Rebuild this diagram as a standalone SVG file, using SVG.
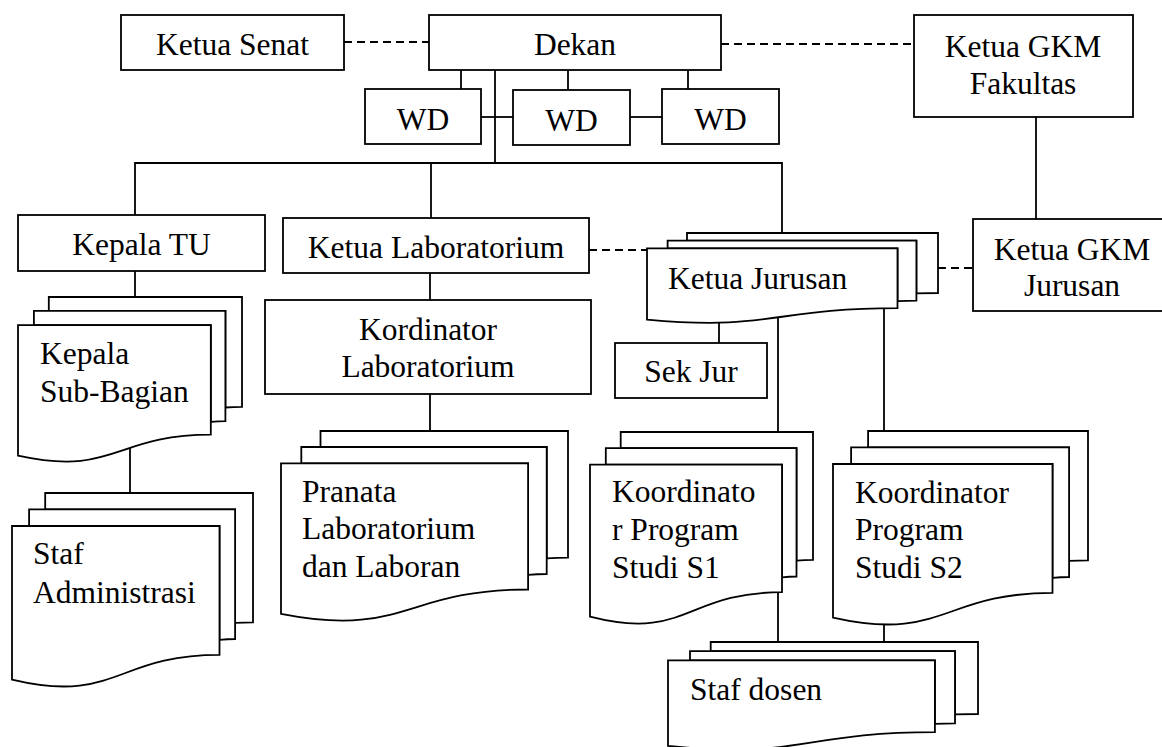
<svg xmlns="http://www.w3.org/2000/svg" width="1162" height="747" viewBox="0 0 1162 747">
<style>
.box{fill:#fff;stroke:#000;stroke-width:1.8}
.ln{fill:none;stroke:#000;stroke-width:1.8}
.dash{fill:none;stroke:#000;stroke-width:1.8;stroke-dasharray:8 5}
text{font-family:"Liberation Serif","Times New Roman",serif;font-size:31.5px;fill:#000}
.c{text-anchor:middle}
</style>
<rect width="1162" height="747" fill="#fff"/>
<g id="connectors">
<line class="dash" x1="344" y1="42" x2="429" y2="42"/>
<line class="dash" x1="721" y1="44" x2="914" y2="44"/>
<line class="dash" x1="589" y1="250" x2="647" y2="250"/>
<line class="dash" x1="938" y1="268" x2="973" y2="268"/>
<line class="ln" x1="461" y1="70" x2="461" y2="89"/>
<line class="ln" x1="568" y1="70" x2="568" y2="90"/>
<line class="ln" x1="688" y1="70" x2="688" y2="89"/>
<line class="ln" x1="481" y1="117" x2="513" y2="117"/>
<line class="ln" x1="630" y1="117" x2="662" y2="117"/>
<line class="ln" x1="495" y1="70" x2="495" y2="163"/>
<polyline class="ln" points="135,215 135,163 782,163 782,233"/>
<line class="ln" x1="431" y1="163" x2="431" y2="218"/>
<line class="ln" x1="135" y1="271" x2="135" y2="297"/>
<line class="ln" x1="130" y1="440" x2="130" y2="493"/>
<line class="ln" x1="430" y1="273" x2="430" y2="300"/>
<line class="ln" x1="430" y1="394" x2="430" y2="431"/>
<line class="ln" x1="1036" y1="117" x2="1036" y2="219"/>
<line class="ln" x1="719" y1="300" x2="719" y2="343"/>
<line class="ln" x1="778" y1="300" x2="778" y2="432"/>
<line class="ln" x1="884" y1="300" x2="884" y2="431"/>
<line class="ln" x1="778" y1="580" x2="778" y2="642"/>
<line class="ln" x1="884" y1="600" x2="884" y2="642"/>
</g>
<g id="ketua-senat">
<rect class="box" x="121" y="15" width="223" height="55"/>
<text class="c" x="232.5" y="55">Ketua Senat</text>
</g>
<g id="dekan">
<rect class="box" x="429" y="15" width="292" height="55"/>
<text class="c" x="575" y="55">Dekan</text>
</g>
<g id="ketua-gkm-fakultas">
<rect class="box" x="914" y="15" width="219" height="102"/>
<text class="c" x="1023" y="57">Ketua GKM</text>
<text class="c" x="1023" y="94">Fakultas</text>
</g>
<g id="wd1">
<rect class="box" x="365" y="89" width="116" height="55"/>
<text class="c" x="423" y="130">WD</text>
</g>
<g id="wd2">
<rect class="box" x="513" y="90" width="117" height="55"/>
<text class="c" x="571.5" y="131">WD</text>
</g>
<g id="wd3">
<rect class="box" x="662" y="89" width="117" height="55"/>
<text class="c" x="720.5" y="130">WD</text>
</g>
<g id="kepala-tu">
<rect class="box" x="18" y="215" width="247" height="56"/>
<text class="c" x="141.5" y="255">Kepala TU</text>
</g>
<g id="ketua-laboratorium">
<rect class="box" x="283" y="218" width="306" height="55"/>
<text class="c" x="436" y="258">Ketua Laboratorium</text>
</g>
<g id="kordinator-laboratorium">
<rect class="box" x="265" y="300" width="326" height="94"/>
<text class="c" x="428" y="340">Kordinator</text>
<text class="c" x="428" y="377">Laboratorium</text>
</g>
<g id="ketua-gkm-jurusan">
<rect class="box" x="973" y="219" width="200" height="92"/>
<text class="c" x="1072" y="260">Ketua GKM</text>
<text class="c" x="1072" y="296">Jurusan</text>
</g>
<g id="sek-jur">
<rect class="box" x="615" y="343" width="152" height="55"/>
<text class="c" x="691" y="382">Sek Jur</text>
</g>
<g id="kepala-sub-bagian">
<path class="box" d="M48.8,310.9 L48.8,297 L242,297 L242,406.9 C233.7,406.9 225.4,407.5 225.4,407.5 L225.4,310.9 Z"/>
<path class="box" d="M33.9,325.1 L33.9,310.9 L225.4,310.9 L225.4,421.1 C218.1,421.1 210.8,421.9 210.8,421.9 L210.8,325.1 Z"/>
<path class="box" d="M18,455.7 C114.4,476.8 114.4,434.7 210.8,434.7 L210.8,325.1 L18,325.1 Z"/>
<text x="40" y="364">Kepala</text>
<text x="40" y="402">Sub-Bagian</text>
</g>
<g id="staf-administrasi">
<path class="box" d="M45.2,509.3 L45.2,493 L253,493 L253,622.3 C244.1,622.3 235.1,622.9 235.1,622.9 L235.1,509.3 Z"/>
<path class="box" d="M29.1,526 L29.1,509.3 L235.1,509.3 L235.1,639 C227.3,639 219.5,639.9 219.5,639.9 L219.5,526 Z"/>
<path class="box" d="M12,679.6 C115.8,704.4 115.8,654.9 219.5,654.9 L219.5,526 L12,526 Z"/>
<text x="33" y="564">Staf</text>
<text x="33" y="603">Administrasi</text>
</g>
<g id="pranata-laboratorium">
<path class="box" d="M320.5,447 L320.5,431 L568,431 L568,557.6 C557.4,557.6 546.7,558.3 546.7,558.3 L546.7,447 Z"/>
<path class="box" d="M301.3,463.3 L301.3,447 L546.7,447 L546.7,574 C537.4,574 528.1,574.8 528.1,574.8 L528.1,463.3 Z"/>
<path class="box" d="M281,613.8 C404.6,638.1 404.6,589.5 528.1,589.5 L528.1,463.3 L281,463.3 Z"/>
<text x="302" y="502">Pranata</text>
<text x="302" y="539">Laboratorium</text>
<text x="302" y="577">dan Laboran</text>
</g>
<g id="ketua-jurusan">
<path class="box" d="M687,240.6 L687,233 L938,233 L938,293 C927.2,293 916.4,293.3 916.4,293.3 L916.4,240.6 Z"/>
<path class="box" d="M667.6,248.3 L667.6,240.6 L916.4,240.6 L916.4,300.7 C907,300.7 897.5,301.1 897.5,301.1 L897.5,248.3 Z"/>
<path class="box" d="M647,319.6 C772.3,331.1 772.3,308.1 897.5,308.1 L897.5,248.3 L647,248.3 Z"/>
<text x="668" y="289">Ketua Jurusan</text>
</g>
<g id="koordinator-s1">
<path class="box" d="M620.7,448.1 L620.7,432 L813,432 L813,559.9 C804.7,559.9 796.5,560.6 796.5,560.6 L796.5,448.1 Z"/>
<path class="box" d="M605.8,464.7 L605.8,448.1 L796.5,448.1 L796.5,576.5 C789.2,576.5 782,577.3 782,577.3 L782,464.7 Z"/>
<path class="box" d="M590,616.7 C686,641.3 686,592.2 782,592.2 L782,464.7 L590,464.7 Z"/>
<text x="612" y="502">Koordinato</text>
<text x="612" y="540">r Program</text>
<text x="612" y="578">Studi S1</text>
</g>
<g id="koordinator-s2">
<path class="box" d="M868.1,447.3 L868.1,431 L1088,431 L1088,560.3 C1078.6,560.3 1069.1,560.9 1069.1,560.9 L1069.1,447.3 Z"/>
<path class="box" d="M851.1,464 L851.1,447.3 L1069.1,447.3 L1069.1,577 C1060.8,577 1052.5,577.9 1052.5,577.9 L1052.5,464 Z"/>
<path class="box" d="M833,617.6 C942.8,642.4 942.8,592.9 1052.5,592.9 L1052.5,464 L833,464 Z"/>
<text x="855" y="503">Koordinator</text>
<text x="855" y="540">Program</text>
<text x="855" y="578">Studi S2</text>
</g>
<g id="staf-dosen">
<path class="box" d="M710.7,651.1 L710.7,642 L978,642 L978,714 C966.5,714 955,714.3 955,714.3 L955,651.1 Z"/>
<path class="box" d="M690,660.4 L690,651.1 L955,651.1 L955,723.3 C945,723.3 934.9,723.8 934.9,723.8 L934.9,660.4 Z"/>
<path class="box" d="M668,745.9 C801.5,759.7 801.5,732.1 934.9,732.1 L934.9,660.4 L668,660.4 Z"/>
<text x="690" y="700">Staf dosen</text>
</g>
</svg>
